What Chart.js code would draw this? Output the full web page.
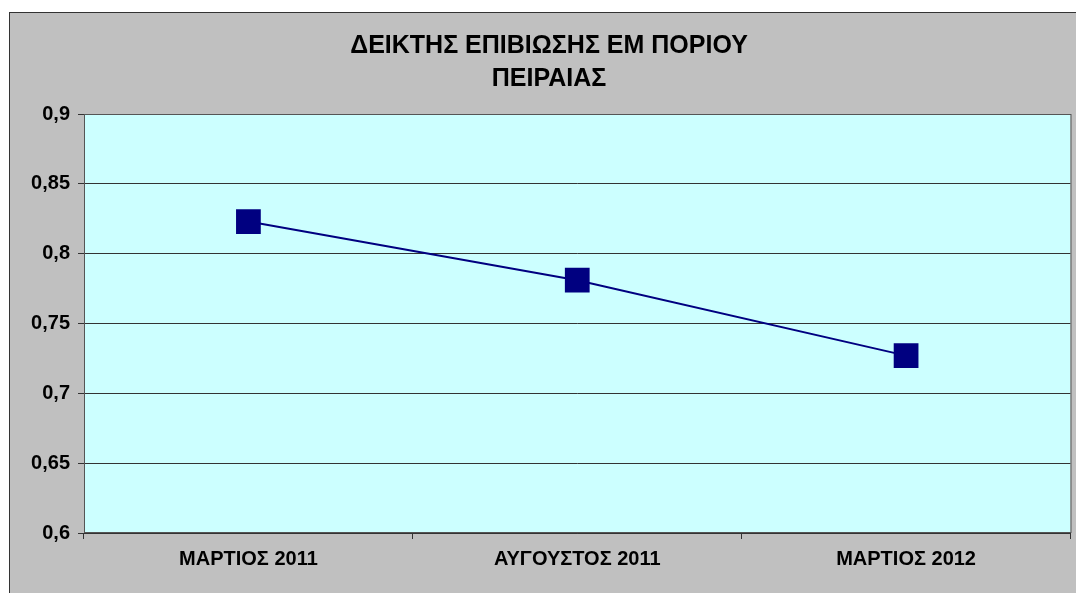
<!DOCTYPE html>
<html>
<head>
<meta charset="utf-8">
<script src="https://cdn.jsdelivr.net/npm/chart.js@4"></script>
<style>
  html, body { margin: 0; background: #fff; overflow: hidden; width: 1076px; height: 593px; }
  #box { position: absolute; left: 9px; top: 12px; width: 1078px; height: 590px;
         border-left: 1px solid #333; border-top: 1px solid #333; background: #c0c0c0; }
  #wrap { width: 1078px; height: 580px; }
</style>
</head>
<body>
<div id="box"><div id="wrap"><canvas id="line-chart"></canvas></div></div>
<script>
var titleLines = ["ΔΕΙΚΤΗΣ ΕΠΙΒΙΩΣΗΣ ΕΜ ΠΟΡΙΟΥ", "ΠΕΙΡΑΙΑΣ"];
var periods = ["ΜΑΡΤΙΟΣ 2011", "ΑΥΓΟΥΣΤΟΣ 2011", "ΜΑΡΤΙΟΣ 2012"];
var survivalIndex = [0.823, 0.781, 0.727];
var yMin = 0.6, yMax = 0.9, yStep = 0.05;

var plotArea = {
    id: 'plotArea',
    beforeDraw: function(chart) {
        var a = chart.chartArea, ctx = chart.ctx;
        ctx.save();
        ctx.fillStyle = '#ccffff';
        ctx.fillRect(a.left, a.top, a.right - a.left, a.bottom - a.top);
        ctx.restore();
    },
    beforeDatasetsDraw: function(chart) {
        var a = chart.chartArea, ctx = chart.ctx;
        ctx.save();
        ctx.strokeStyle = '#555';
        ctx.lineWidth = 1;
        ctx.strokeRect(a.left + 0.5, a.top + 0.5, a.right - a.left, a.bottom - a.top - 1);
        ctx.restore();
    }
};

var lineChart = new Chart(document.getElementById("line-chart"), {
    type: 'line',
    data: {
        labels: periods,
        datasets: [{
            data: survivalIndex,
            borderColor: '#000080',
            backgroundColor: '#000080',
            borderWidth: 2,
            pointStyle: 'rect',
            pointRadius: 17.5,
            pointHoverRadius: 17.5,
            pointBorderWidth: 0
        }]
    },
    options: {
        responsive: true,
        maintainAspectRatio: false,
        animation: false,
        layout: { padding: 0 },
        plugins: {
            legend: { display: false },
            tooltip: { enabled: false },
            title: {
                display: true,
                text: titleLines,
                color: '#000',
                font: { family: 'Liberation Sans', size: 25, weight: 'bold', lineHeight: 1.32 },
                padding: { top: 16.5, bottom: 18.5 }
            }
        },
        scales: {
            x: {
                offset: true,
                grid: { offset: true, drawOnChartArea: false, drawTicks: true, tickLength: 6, color: '#333' },
                border: { color: '#333' },
                ticks: { color: '#000', font: { family: 'Liberation Sans', size: 20, weight: 'bold' }, padding: 8 },
                afterFit: function(s) { s.height = 60; }
            },
            y: {
                min: yMin,
                max: yMax,
                grid: { color: '#333', tickLength: 6 },
                border: { color: '#333' },
                ticks: {
                    stepSize: yStep,
                    color: '#000',
                    font: { family: 'Liberation Sans', size: 20, weight: 'bold' },
                    padding: 8,
                    callback: function(v) { return v.toFixed(2).replace(/0$/, '').replace('.', ','); }
                },
                afterFit: function(s) { s.width = 74; }
            },
            // empty right-hand strip so the plot ends where the original does
            spacer: {
                type: 'linear',
                position: 'right',
                grid: { display: false },
                border: { display: false },
                ticks: { display: false },
                afterFit: function(s) { s.width = 16; }
            }
        }
    },
    plugins: [plotArea]
});
</script>
</body>
</html>
